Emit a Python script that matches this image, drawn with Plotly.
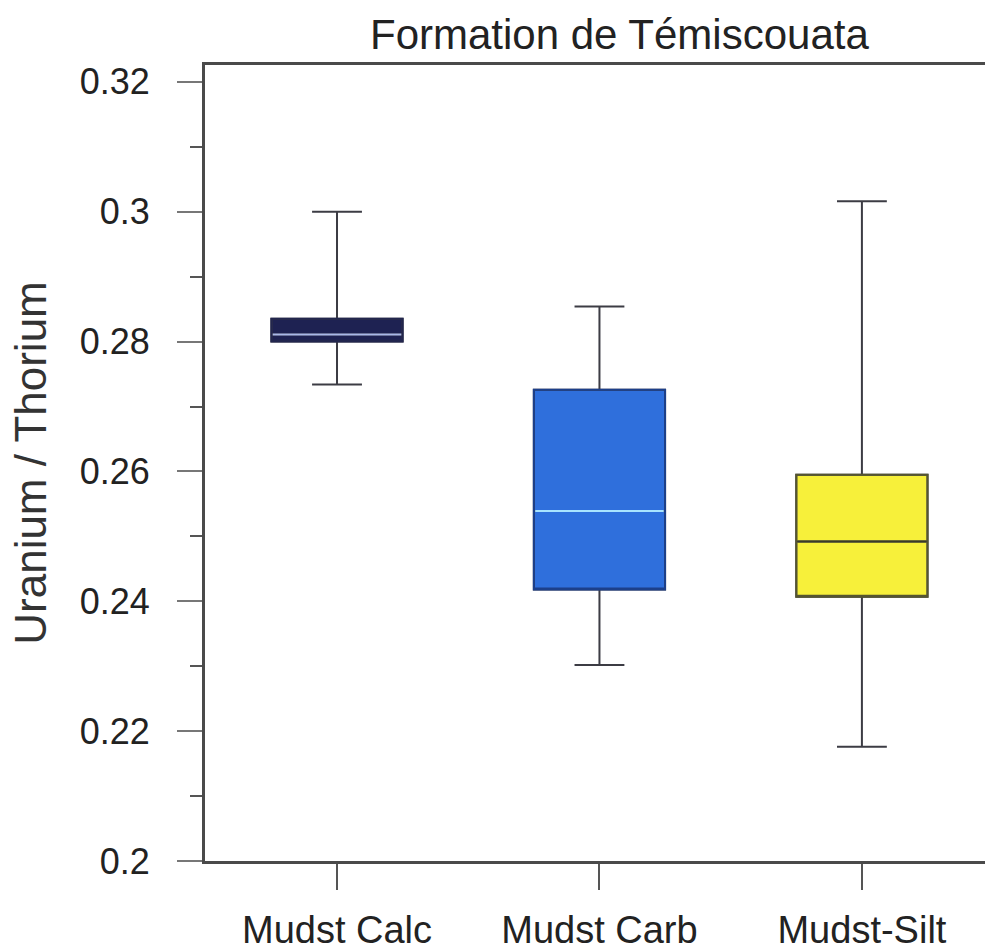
import plotly.graph_objects as go

categories = ["Mudst Calc", "Mudst Carb", "Mudst-Silt"]
q1 = [0.2800, 0.2418, 0.2407]
median = [0.2811, 0.2539, 0.2492]
q3 = [0.2835, 0.2726, 0.2595]
lower = [0.2734, 0.2302, 0.2176]
upper = [0.3000, 0.2854, 0.3016]

fill_colors = ["#1e2252", "#2f6fdc", "#f7f03a"]
outline_colors = ["#22264e", "#1c3f8a", "#555530"]
median_colors = ["#a9b8e8", "#a8e4ff", "#3a3a2a"]

ytick_vals = [0.2, 0.22, 0.24, 0.26, 0.28, 0.3, 0.32]
ytick_text = ["0.2", "0.22", "0.24", "0.26", "0.28", "0.3", "0.32"]

FONT = "Liberation Sans, Arial, sans-serif"

fig = go.Figure()
for i, cat in enumerate(categories):
    fig.add_trace(go.Box(
        x=[cat], q1=[q1[i]], median=[median[i]], q3=[q3[i]],
        lowerfence=[lower[i]], upperfence=[upper[i]],
        fillcolor=fill_colors[i],
        line=dict(color="#3c3c44", width=2),
        whiskerwidth=0.38, width=0.5, boxpoints=False,
        showlegend=False, hoverinfo="skip",
    ))
    # box outline
    fig.add_trace(go.Box(
        x=[cat], q1=[q1[i]], median=[q1[i]], q3=[q3[i]],
        lowerfence=[q1[i]], upperfence=[q3[i]],
        fillcolor="rgba(0,0,0,0)",
        line=dict(color=outline_colors[i], width=2),
        whiskerwidth=0, width=0.5, boxpoints=False,
        showlegend=False, hoverinfo="skip",
    ))
    # median line
    fig.add_trace(go.Box(
        x=[cat], q1=[median[i]], median=[median[i]], q3=[median[i]],
        lowerfence=[median[i]], upperfence=[median[i]],
        fillcolor="rgba(0,0,0,0)",
        line=dict(color=median_colors[i], width=2),
        whiskerwidth=0, width=0.49, boxpoints=False,
        showlegend=False, hoverinfo="skip",
    ))

fig.update_layout(
    width=985, height=951,
    margin=dict(l=205, r=0, t=65, b=79),
    paper_bgcolor="white", plot_bgcolor="white",
    boxmode="overlay",
    font=dict(family=FONT, size=36, color="#222222"),
    annotations=[dict(
        text="Formation de Témiscouata", xref="paper", yref="paper",
        x=0.532, y=1.0, yshift=31, xanchor="center", yanchor="middle",
        showarrow=False, font=dict(family=FONT, size=42, color="#222222"),
    )],
)

fig.update_xaxes(
    range=[-0.503, 2.469],
    showline=True, linecolor="#4a4a4a", linewidth=2.5,
    mirror=True,
    ticks="outside", ticklen=26, tickwidth=1.5, tickcolor="#555555",
    tickfont=dict(family=FONT, size=38, color="#222222"),
    ticklabelstandoff=8,
    showgrid=False, zeroline=False,
)
fig.update_yaxes(
    range=[0.2, 0.3226],
    tickvals=ytick_vals, ticktext=ytick_text,
    showline=True, linecolor="#4a4a4a", linewidth=3,
    ticks="outside", ticklen=25, tickwidth=1.5, tickcolor="#777777",
    minor=dict(dtick=0.01, ticks="outside", ticklen=12, tickwidth=1.5, tickcolor="#555555"),
    tickfont=dict(family=FONT, size=36, color="#222222"),
    ticklabelstandoff=20,
    title=dict(text="Uranium / Thorium", standoff=20,
               font=dict(family=FONT, size=44, color="#333333")),
    showgrid=False, zeroline=False,
)

fig.write_html(
    "out.html",
    config={"displayModeBar": False},
    post_script="document.body.style.margin='0';document.body.style.overflow='hidden';",
)
